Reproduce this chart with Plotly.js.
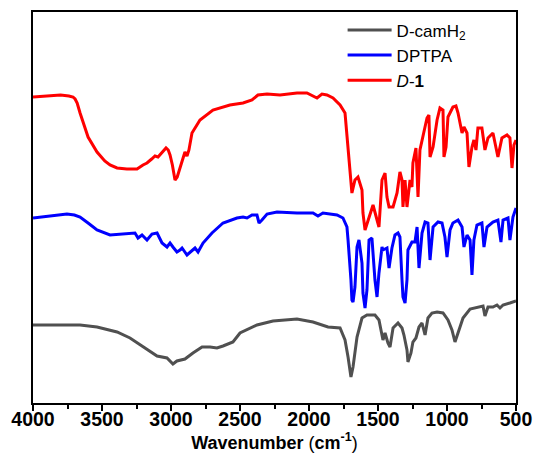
<!DOCTYPE html>
<html>
<head>
<meta charset="utf-8">
<script src="https://cdn.plot.ly/plotly-3.0.1.min.js"></script>
<style>
  html, body { margin: 0; padding: 0; background: #fff; }
  #chart { width: 537px; height: 460px; }
</style>
</head>
<body>
<div id="chart"></div>
<script>
// FT-IR spectra, stacked transmittance (a.u.) vs wavenumber (cm-1)

// D-camH2
const wnCam = [4000,3800,3659,3536,3391,3297,3203,3101,3029,2986,2957,2899,2841,2775,2717,2667,2623,2573,2551,2500,2377,2261,2087,1971,1862,1775,1739,1717,1696,1681,1652,1616,1580,1522,1493,1464,1449,1428,1413,1391,1355,1326,1312,1290,1283,1261,1247,1225,1203,1181,1159,1138,1109,1072,1029,993,964,942,920,884,833,783,739,725,703,667,638,616,594,544,522,500];
const tCam = [78,78,78,76,71,65,56,47,45,39,42,44,50,56,56,55,57,60,61,70,78,82,84,81,76,75,63,46,26,36,66,85,88,88,83,63,70,60,56,75,80,75,68,53,41,50,61,65,76,80,68,85,90,91,90,83,73,61,71,85,94,96,97,87,96,96,98,95,98,100,101,102];

// DPTPA
const wnDptpa = [4000,3940,3877,3800,3754,3700,3659,3601,3536,3442,3348,3297,3261,3239,3210,3174,3138,3101,3065,3029,3007,2986,2957,2935,2920,2884,2848,2826,2804,2768,2703,2623,2522,2478,2449,2413,2377,2362,2341,2304,2232,2087,1971,1935,1899,1797,1754,1725,1717,1703,1696,1689,1681,1667,1652,1638,1616,1609,1594,1580,1565,1544,1536,1522,1507,1493,1471,1464,1435,1420,1399,1377,1355,1341,1326,1319,1304,1290,1283,1254,1232,1217,1203,1181,1159,1138,1123,1101,1065,1036,1015,1000,978,957,920,891,877,855,833,819,805,783,747,732,710,667,631,609,594,558,544,522,500];
const tDptpa = [185,186,187,188,189,188,186,180,173,168,169,170,170,165,168,163,169,170,160,156,160,156,151,153,155,148,153,155,151,160,170,180,185,186,185,188,188,180,183,189,191,190,190,187,190,188,185,176,163,138,123,103,101,116,156,163,140,110,95,113,163,165,146,123,106,130,156,153,155,135,155,168,170,166,123,106,100,123,153,161,161,176,135,170,181,180,143,176,181,180,166,146,173,180,183,176,156,168,163,128,163,178,180,156,176,181,183,161,183,185,163,186,195];

// D-1
const wnD1 = [4000,3900,3800,3740,3710,3695,3680,3659,3630,3601,3536,3480,3442,3391,3320,3246,3203,3174,3140,3116,3094,3065,3036,3020,3007,2990,2971,2955,2940,2920,2899,2884,2870,2848,2790,2696,2573,2478,2413,2370,2304,2210,2087,2015,1942,1906,1870,1826,1775,1739,1717,1703,1689,1667,1645,1616,1609,1594,1573,1544,1536,1507,1493,1471,1449,1435,1420,1391,1362,1341,1326,1319,1304,1290,1268,1254,1247,1225,1210,1196,1174,1145,1131,1123,1101,1072,1051,1029,1022,1007,993,957,935,920,891,877,855,841,819,805,790,776,747,725,703,667,631,602,565,544,529,515,500];
const tD1 = [306,307,308,307,306,304,300,290,278,266,251,242,238,235,234,234,238,240,244,247,246,251,255,253,248,238,223,226,233,243,251,247,253,270,283,293,298,300,303,308,309,308,310,310,305,309,308,305,298,290,256,226,210,223,226,213,190,173,183,196,198,183,176,223,230,206,196,196,210,231,223,196,223,196,223,216,240,255,206,253,266,285,288,246,256,283,295,293,246,256,286,296,297,290,270,276,270,236,256,263,253,275,275,253,265,270,246,265,268,265,235,258,263];

const seriesNames = ['D-camH<sub>2</sub>', 'DPTPA', '<i>D</i>-<b>1</b>'];
const xTicks = [4000, 3500, 3000, 2500, 2000, 1500, 1000, 500];

const lineTrace = (x, y, name, color, group) => ({
  x: x, y: y, name: name, legendgroup: group,
  type: 'scatter', mode: 'lines',
  line: { color: color, width: 3, shape: 'linear' },
  hoverinfo: 'skip'
});

const data = [
  lineTrace(wnCam, tCam, seriesNames[0], '#505050', 'a'),
  lineTrace(wnDptpa, tDptpa, seriesNames[1], '#0000FF', 'b'),
  lineTrace(wnD1, tD1, seriesNames[2], '#FF0000', 'c')
];

const layout = {
  width: 537, height: 460,
  margin: { l: 33, r: 21, t: 12, b: 57 },
  paper_bgcolor: '#ffffff', plot_bgcolor: '#ffffff',
  font: { family: '"Liberation Sans", Arial, sans-serif', color: '#000' },
  showlegend: true,
  legend: {
    x: 0.641, y: 0.999, xanchor: 'left', yanchor: 'top',
    bgcolor: 'rgba(0,0,0,0)', borderwidth: 0,
    font: { size: 17, color: '#000' },
    tracegroupgap: 2, traceorder: 'normal', itemwidth: 44
  },
  xaxis: {
    range: [4000, 500], autorange: false,
    tickvals: xTicks, ticktext: xTicks.map(v => '<b>' + v + '</b>'),
    ticks: 'outside', ticklen: 6, tickwidth: 2, tickcolor: '#000',
    ticklabelstandoff: -8,
    minor: { dtick: 250, ticks: 'outside', ticklen: 4, tickwidth: 2, tickcolor: '#000' },
    showline: true, linewidth: 2, linecolor: '#000', mirror: true,
    showgrid: false, zeroline: false,
    tickfont: { size: 19.5, color: '#000' },
    title: { text: '<b>Wavenumber </b>(<b>cm<sup>-1</sup></b>)', font: { size: 18, color: '#000' }, standoff: 0 }
  },
  yaxis: {
    range: [0, 391], autorange: false,
    showticklabels: false, ticks: '',
    showline: true, linewidth: 2, linecolor: '#000', mirror: true,
    showgrid: false, zeroline: false
  }
};

Plotly.newPlot('chart', data, layout, { displayModeBar: false, staticPlot: true });
</script>
</body>
</html>
